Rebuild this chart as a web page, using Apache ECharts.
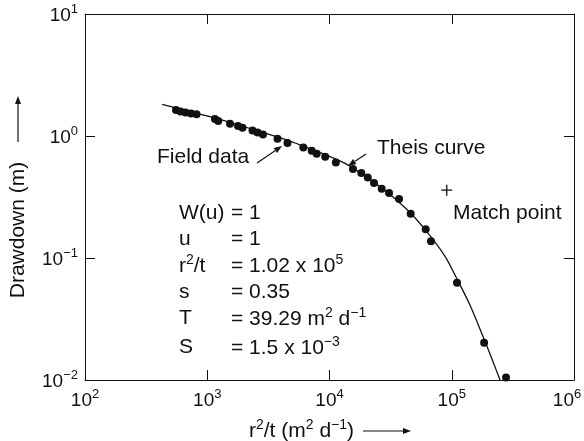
<!DOCTYPE html>
<html><head><meta charset="utf-8">
<script src="https://cdn.jsdelivr.net/npm/echarts@6/dist/echarts.min.js"></script>
<style>html,body{margin:0;padding:0;background:#fff}#c{width:584px;height:441px}</style>
</head><body><div id="c"></div>
<script>
const fieldX = [555, 604, 664, 736, 817, 1156, 1231, 1535, 1786, 1943, 2344, 2576, 2857, 3756, 4532, 6109, 7150, 7855, 9224, 11270, 15560, 18200, 20560, 23120, 26720, 30690, 37060, 46130, 61200, 67640, 110400, 184000, 278000];
const fieldY = [1.63, 1.59, 1.56, 1.53, 1.51, 1.38, 1.33, 1.26, 1.21, 1.17, 1.11, 1.07, 1.03, 0.948, 0.877, 0.805, 0.758, 0.716, 0.676, 0.607, 0.537, 0.498, 0.457, 0.412, 0.370, 0.341, 0.305, 0.230, 0.172, 0.137, 0.0628, 0.0202, 0.0105];
const theisX = [427, 1053, 2240, 5225, 13400, 27390, 43050, 60390, 88100, 110400, 140900, 183600, 213300, 248300];
const theisY = [1.82, 1.44, 1.152, 0.876, 0.597, 0.368, 0.250, 0.1714, 0.1033, 0.0673, 0.0412, 0.0217, 0.01485, 0.0100];
const matchPoint = [91000, 0.36];
const xRange = [1e2, 1e6];
const yRange = [1e-2, 1e1];

const FF = "'Liberation Sans', Arial, Helvetica, sans-serif";
const INK = '#111';
const chart = echarts.init(document.getElementById('c'), null, {renderer: 'canvas'});

function expText(e) { return e < 0 ? '\u2212' + (-e) : String(e); }
function xLabel(v) {
  const e = Math.round(Math.log10(v));
  if (v >= xRange[1]) return '{b|10}{se|' + expText(e) + '}';
  return '{b|10}{s|' + expText(e) + '}';
}
function yLabel(v) {
  const e = Math.round(Math.log10(v));
  return '{b|10}{s|' + expText(e) + '}';
}
const tickRich = {
  b: {fontSize: 19, fontFamily: FF, color: INK, verticalAlign: 'bottom'},
  s: {fontSize: 13, fontFamily: FF, color: INK, verticalAlign: 'bottom', padding: [0, 0, 9, 0]},
  se: {fontSize: 13, fontFamily: FF, color: INK, verticalAlign: 'bottom', padding: [0, 14, 9, 0]}
};
const annRich = {
  n: {fontSize: 21, fontFamily: FF, color: INK, verticalAlign: 'bottom'},
  s: {fontSize: 14, fontFamily: FF, color: INK, verticalAlign: 'bottom', padding: [0, 0, 9, 0]}
};

function axisBase(extra) {
  return Object.assign({
    type: 'log', logBase: 10,
    axisLine: {show: true, lineStyle: {color: INK, width: 1}},
    axisTick: {show: true, inside: true, length: 10, lineStyle: {color: INK, width: 1}},
    minorTick: {show: false},
    splitLine: {show: false},
    minorSplitLine: {show: false}
  }, extra);
}

function txt(x, y, text, align) {
  return {type: 'text', x: x, y: y, silent: true,
    style: {text: text, rich: annRich, align: align || 'left', verticalAlign: 'middle', fill: INK, fontSize: 21, fontFamily: FF}};
}
function arrow(x1, y1, x2, y2) {
  const L = 8, W = 3;
  const dx = x2 - x1, dy = y2 - y1, d = Math.hypot(dx, dy);
  const ux = dx / d, uy = dy / d;
  const bx = x2 - ux * L, by = y2 - uy * L;
  return [
    {type: 'line', silent: true, shape: {x1: x1, y1: y1, x2: bx, y2: by}, style: {stroke: INK, lineWidth: 1.2}},
    {type: 'polygon', silent: true, shape: {points: [[x2, y2], [bx - uy * W, by + ux * W], [bx + uy * W, by - ux * W]]}, style: {fill: INK}}
  ];
}

const rowX = 179, eqX = 231;
const rows = [
  ['{n|W(u)}', '{n|= 1}', 213],
  ['{n|u}', '{n|= 1}', 239],
  ['{n|r}{s|2}{n|/t}', '{n|= 1.02 x 10}{s|5}', 265],
  ['{n|s}', '{n|= 0.35}', 292],
  ['{n|T}', '{n|= 39.29 m}{s|2}{n| d}{s|\u22121}', 318],
  ['{n|S}', '{n|= 1.5 x 10}{s|\u22123}', 347]
];
const graphics = [];
rows.forEach(r => { graphics.push(txt(rowX, r[2], r[0])); graphics.push(txt(eqX, r[2], r[1])); });
graphics.push(txt(157, 157, '{n|Field data}'));
graphics.push(txt(377, 148, '{n|Theis curve}'));
graphics.push(txt(453, 213, '{n|Match point}'));
graphics.push(...arrow(257, 163, 282, 146));
graphics.push(...arrow(366, 154, 348, 166));
graphics.push(txt(249, 430, '{n|r}{s|2}{n|/t (m}{s|2}{n| d}{s|\u22121}{n|)}'));
graphics.push(...arrow(363, 431, 411, 431));
graphics.push({type: 'text', x: 18, y: 230, rotation: Math.PI / 2, silent: true,
  style: {text: 'Drawdown (m)', align: 'center', verticalAlign: 'middle', fill: INK, fontSize: 21, fontFamily: FF}});
graphics.push(...arrow(18, 142, 18, 96));

chart.setOption({
  animation: false,
  backgroundColor: '#fff',
  grid: {left: 85, right: 10, top: 14, bottom: 61, show: false, containLabel: false, outerBoundsMode: 'none'},
  xAxis: [
    axisBase({min: xRange[0], max: xRange[1], position: 'bottom',
      axisLabel: {show: true, formatter: xLabel, rich: tickRich, margin: 8, showMinLabel: true, showMaxLabel: true,
        hideOverlap: false}}),
    axisBase({min: xRange[0], max: xRange[1], position: 'top', axisLabel: {show: false}})
  ],
  yAxis: [
    axisBase({min: yRange[0], max: yRange[1], position: 'left',
      axisLabel: {show: true, formatter: yLabel, rich: tickRich, margin: 7, showMinLabel: true, showMaxLabel: true}}),
    axisBase({min: yRange[0], max: yRange[1], position: 'right', axisLabel: {show: false}})
  ],
  series: [
    {type: 'line', name: 'Theis curve', xAxisIndex: 0, yAxisIndex: 0,
      data: theisX.map((x, i) => [x, theisY[i]]), smooth: 0.3, showSymbol: false, clip: true,
      lineStyle: {color: INK, width: 1.3}},
    {type: 'scatter', name: 'Field data', xAxisIndex: 0, yAxisIndex: 0, clip: false,
      data: fieldX.map((x, i) => [x, fieldY[i]]), symbol: 'circle', symbolSize: 8,
      itemStyle: {color: INK, opacity: 1}},
    {type: 'scatter', name: 'Match point', xAxisIndex: 0, yAxisIndex: 0,
      data: [matchPoint], symbol: 'path://M5,0 L5,10 M0,5 L10,5', symbolSize: 11,
      itemStyle: {color: 'none', borderColor: INK, borderWidth: 1.3, opacity: 1}}
  ],
  graphic: graphics
});
</script>
</body></html>
